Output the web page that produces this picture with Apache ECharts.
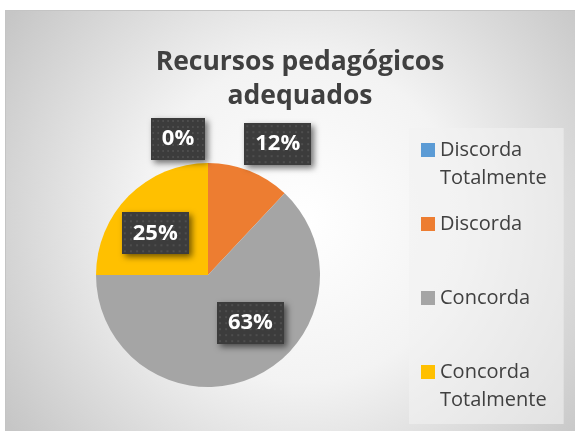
<!DOCTYPE html>
<html>
<head>
<meta charset="utf-8">
<script src="https://cdn.jsdelivr.net/npm/echarts@6/dist/echarts.min.js"></script>
<style>
html,body{margin:0;padding:0;background:#ffffff;width:575px;height:431px;overflow:hidden;}
#frame{position:absolute;left:5px;top:10px;width:570px;height:421px;border-left:1px solid #c4c4c4;border-top:1px solid #c4c4c4;box-sizing:border-box;}
#chart{position:absolute;left:6px;top:11px;width:569px;height:420px;}
</style>
</head>
<body>
<div id="frame"></div>
<div id="chart"></div>
<script>
var titleLines = ['Recursos pedagógicos', 'adequados'];
var categories = ['Discorda Totalmente', 'Discorda', 'Concorda', 'Concorda Totalmente'];
var values = [0, 12, 63, 25];
var colors = ['#5B9BD5', '#ED7D31', '#A5A5A5', '#FFC000'];

function makePattern(w, h) {
  var c = document.createElement('canvas');
  c.width = w; c.height = h;
  var g = c.getContext('2d');
  g.fillStyle = '#3c3c3c';
  g.fillRect(0, 0, w, h);
  g.fillStyle = '#4e4e4e';
  for (var y = 2; y < h; y += 6) {
    for (var x = 2; x < w; x += 6) {
      g.fillRect(x, y, 2, 2);
    }
  }
  return c;
}
var pattern = makePattern(66, 42);

var labelOffsets = [[-30, -77], [48, -76], [19, -6], [-11, 0]];
// legend icon: 14x14 square aligned with the first text line of a 56px tall item
var legendIcon = 'path://M0,0L0,0M0,7L14,7L14,21L0,21ZM14,56L14,56';

var chart = echarts.init(document.getElementById('chart'), null, {renderer: 'canvas'});
var option = {
  animation: false,
  backgroundColor: {
    type: 'radial', x: 0.52, y: 0.5, r: 0.85,
    colorStops: [
      {offset: 0, color: '#ffffff'},
      {offset: 0.45, color: '#f3f3f3'},
      {offset: 1, color: '#c6c6c6'}
    ]
  },
  title: {
    text: titleLines.join('\n'),
    left: 289,
    top: 29,
    textAlign: 'center',
    textStyle: {
      fontFamily: 'Open Sans',
      fontWeight: 'bold',
      fontSize: 26.5,
      lineHeight: 34,
      color: '#404040'
    }
  },
  legend: {
    orient: 'vertical',
    left: 403,
    top: 117,
    padding: [8, 17, 10, 12],
    itemGap: 18,
    itemWidth: 14,
    itemHeight: 56,
    icon: legendIcon,
    backgroundColor: 'rgba(242,242,242,0.6)',
    data: categories,
    formatter: function (name) {
      return name.indexOf(' ') > 0 ? name.replace(' ', '\n') : name + '\n ';
    },
    textStyle: {
      fontFamily: 'Open Sans',
      fontSize: 20,
      lineHeight: 28,
      color: '#404040'
    }
  },
  series: [{
    type: 'pie',
    center: [202, 264],
    radius: 112,
    startAngle: 90,
    clockwise: true,
    color: colors,
    itemStyle: {borderWidth: 0},
    emphasis: {disabled: true},
    label: {
      show: true,
      position: 'inside',
      formatter: '{c}%',
      fontFamily: 'Open Sans',
      fontWeight: 'bold',
      fontSize: 22,
      color: '#ffffff',
      backgroundColor: {image: pattern},
      padding: [10, 11, 10, 11],
      shadowColor: 'rgba(0,0,0,0.55)',
      shadowBlur: 6,
      shadowOffsetX: 3,
      shadowOffsetY: 3
    },
    labelLine: {show: false},
    labelLayout: function (p) {
      var o = labelOffsets[p.dataIndex];
      return {dx: o[0], dy: o[1]};
    },
    data: categories.map(function (n, i) { return {name: n, value: values[i]}; })
  }]
};
chart.setOption(option);
</script>
</body>
</html>
